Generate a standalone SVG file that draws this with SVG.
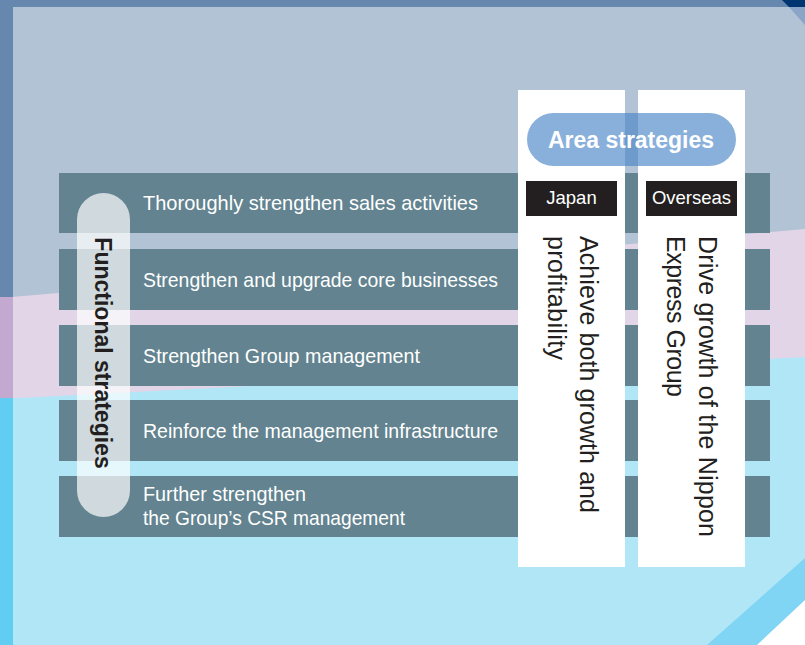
<svg xmlns="http://www.w3.org/2000/svg" width="805" height="645" viewBox="0 0 805 645">
  <style>
    .row { fill: #62838f; }
    .rowtxt { font-family: "Liberation Sans", Arial, sans-serif; font-size: 21px; fill: #ffffff; }
    .col { fill: #ffffff; }
    .vtxt { font-family: "Liberation Sans", Arial, sans-serif; font-size: 25px; fill: #231f20; }
    .tag { fill: #231f20; }
    .tagtxt { font-family: "Liberation Sans", Arial, sans-serif; font-size: 18.5px; fill: #ffffff; text-anchor: middle; }
  </style>
  <!-- background -->
  <g id="background">
    <rect x="0" y="0" width="805" height="645" fill="#b1c3d4"/>
    <polygon points="0,298 805,229 805,645 0,645" fill="#e2d5e8"/>
    <polygon points="0,399 805,357 805,645 0,645" fill="#b0e6f6"/>
    <rect x="0" y="0" width="805" height="7" fill="#6788ae"/>
    <rect x="0" y="0" width="13" height="298" fill="#6788ae"/>
    <rect x="0" y="297" width="13" height="102" fill="#c3a8cf"/>
    <rect x="0" y="398" width="13" height="247" fill="#62cdf3"/>
    <polygon points="782,0 805,0 805,7 789,7" fill="#003572"/>
    <polygon points="789,7 805,7 805,25" fill="#8aa5c8"/>
    <polygon points="707,645 805,558 805,645" fill="#80d4f4"/>
    <polygon points="757,645 805,600 805,645" fill="#ffffff"/>
  </g>
  <!-- functional strategy rows -->
  <g id="row1"><rect class="row" x="59" y="173" width="711" height="60"/>
    <text class="rowtxt" x="143" y="210" textLength="335" lengthAdjust="spacingAndGlyphs">Thoroughly strengthen sales activities</text></g>
  <g id="row2"><rect class="row" x="59" y="249" width="711" height="61"/>
    <text class="rowtxt" x="143" y="287" textLength="355" lengthAdjust="spacingAndGlyphs">Strengthen and upgrade core businesses</text></g>
  <g id="row3"><rect class="row" x="59" y="325" width="711" height="61"/>
    <text class="rowtxt" x="143" y="363" textLength="277" lengthAdjust="spacingAndGlyphs">Strengthen Group management</text></g>
  <g id="row4"><rect class="row" x="59" y="400" width="711" height="61"/>
    <text class="rowtxt" x="143" y="438" textLength="355" lengthAdjust="spacingAndGlyphs">Reinforce the management infrastructure</text></g>
  <g id="row5"><rect class="row" x="59" y="476" width="711" height="61"/>
    <text class="rowtxt" x="143" y="501" textLength="163" lengthAdjust="spacingAndGlyphs">Further strengthen</text>
    <text class="rowtxt" x="143" y="525" textLength="262" lengthAdjust="spacingAndGlyphs">the Group’s CSR management</text></g>
  <!-- functional strategies pill -->
  <g id="functional">
    <rect x="77" y="193" width="53" height="324" rx="26.5" fill="#ffffff" fill-opacity="0.7"/>
    <text transform="translate(95,353) rotate(90)" text-anchor="middle" font-family="Liberation Sans, Arial, sans-serif" font-size="23" font-weight="bold" fill="#231f20">Functional strategies</text>
  </g>
  <!-- area columns -->
  <g id="japan">
    <rect class="col" x="518" y="90" width="107" height="477"/>
    <rect class="tag" x="526" y="181" width="91" height="35"/>
    <text class="tagtxt" x="571.5" y="204">Japan</text>
    <text class="vtxt" transform="translate(580,236) rotate(90)" textLength="277">Achieve both growth and</text>
    <text class="vtxt" transform="translate(548,236) rotate(90)" textLength="124">profitability</text>
  </g>
  <g id="overseas">
    <rect class="col" x="638" y="90" width="107" height="477"/>
    <rect class="tag" x="646" y="181" width="91" height="35"/>
    <text class="tagtxt" x="691.5" y="204">Overseas</text>
    <text class="vtxt" transform="translate(699,236) rotate(90)" textLength="301">Drive growth of the Nippon</text>
    <text class="vtxt" transform="translate(667,236) rotate(90)" textLength="161">Express Group</text>
  </g>
  <g id="area">
    <rect x="527" y="113" width="209" height="53" rx="26.5" fill="#4a86c8" fill-opacity="0.65"/>
    <text x="631" y="148" text-anchor="middle" font-family="Liberation Sans, Arial, sans-serif" font-size="23" font-weight="bold" fill="#ffffff">Area strategies</text>
  </g>
  <g id="connectors"></g>
</svg>
